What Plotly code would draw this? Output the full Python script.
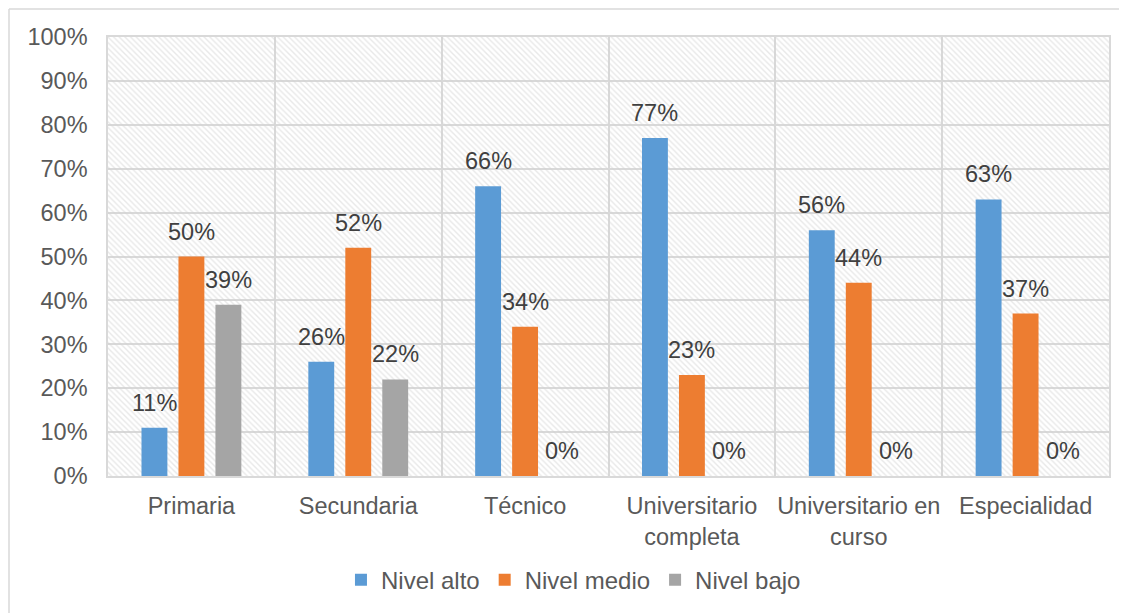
import plotly.graph_objects as go

categories = ["Primaria", "Secundaria", "Técnico", "Universitario<br>completa",
              "Universitario en<br>curso", "Especialidad"]
nivel_alto = [0.11, 0.26, 0.66, 0.77, 0.56, 0.63]
nivel_medio = [0.50, 0.52, 0.34, 0.23, 0.44, 0.37]
nivel_bajo = [0.39, 0.22, 0.0, 0.0, 0.0, 0.0]
series_names = ["Nivel alto", "Nivel medio", "Nivel bajo"]
series_colors = ["#5B9BD5", "#ED7D31", "#A5A5A5"]

FONT = "Liberation Sans, Arial, sans-serif"
FS = 23.5

W, H = 1119, 605
ML, MR, MT, MB = 100, 18, 29, 137
BARGAP, BARGROUPGAP = 0.335, 0.30

fig = go.Figure()

# hatched plot-area background on the base axes
fig.add_trace(go.Bar(
    x=[0.5], y=[1.0], width=[1.0], xaxis="x", yaxis="y",
    marker=dict(color="rgba(0,0,0,0)", line=dict(width=0),
                pattern=dict(shape="\\", size=4, solidity=0.35,
                             fgcolor="#d2d2d2", bgcolor="rgba(0,0,0,0)",
                             fillmode="overlay")),
    showlegend=False, hoverinfo="skip",
))

all_series = [nivel_alto, nivel_medio, nivel_bajo]
for name, vals, col in zip(series_names, all_series, series_colors):
    fig.add_trace(go.Bar(
        x=categories, y=vals, name=name, xaxis="x2", yaxis="y",
        marker=dict(color=col, line=dict(width=0)),
        cliponaxis=False,
    ))

# data labels placed at each bar's value
slot_px = (W - ML - MR) / len(categories) * (1 - BARGAP) / len(all_series)
annotations = []
for si, vals in enumerate(all_series):
    for cat, v in zip(categories, vals):
        annotations.append(dict(
            x=cat, y=v, xref="x2", yref="y", text=f"{round(v*100)}%",
            showarrow=False, xshift=(si - 1) * slot_px, yshift=25,
            yanchor="middle", xanchor="center",
            font=dict(family=FONT, size=FS, color="#404040"),
        ))

fig.update_layout(
    width=W, height=H,
    margin=dict(l=ML, r=MR, t=MT, b=MB, autoexpand=False),
    paper_bgcolor="white", plot_bgcolor="white",
    barmode="group", bargap=BARGAP, bargroupgap=BARGROUPGAP,
    font=dict(family=FONT, size=FS, color="#595959"),
    xaxis=dict(range=[0, 1], visible=False, fixedrange=True),
    xaxis2=dict(overlaying="x", side="bottom", type="category", range=[-0.5, 5.5],
                tickson="boundaries", showgrid=True, gridcolor="#d9d9d9", gridwidth=1.5,
                showline=True, linecolor="#d9d9d9", linewidth=1.5, mirror=True,
                ticks="", ticklen=0, tickangle=0, automargin=False,
                ticklabelstandoff=8,
                tickfont=dict(size=FS, color="#595959")),
    yaxis=dict(range=[0, 1], dtick=0.1, tickformat=".0%", showgrid=True,
               gridcolor="#d9d9d9", gridwidth=1.5, showline=True, linecolor="#d9d9d9",
               linewidth=1.5, mirror=True, ticks="", zeroline=False, automargin=False,
               ticklabelstandoff=14,
               tickfont=dict(size=FS, color="#595959")),
    legend=dict(orientation="h", x=0.465, xanchor="center", y=-0.237, yanchor="middle",
                font=dict(size=24, color="#595959"), traceorder="normal"),
    annotations=annotations,
    shapes=[
        dict(type="line", xref="paper", yref="paper", x0=-0.0989, x1=-0.0989,
             y0=-0.5, y1=1.0638, line=dict(color="#d9d9d9", width=1.5)),
        dict(type="line", xref="paper", yref="paper", x0=-0.0989, x1=1.1,
             y0=1.0638, y1=1.0638, line=dict(color="#d9d9d9", width=1.5)),
    ],
)

fig.write_html("out.html")
